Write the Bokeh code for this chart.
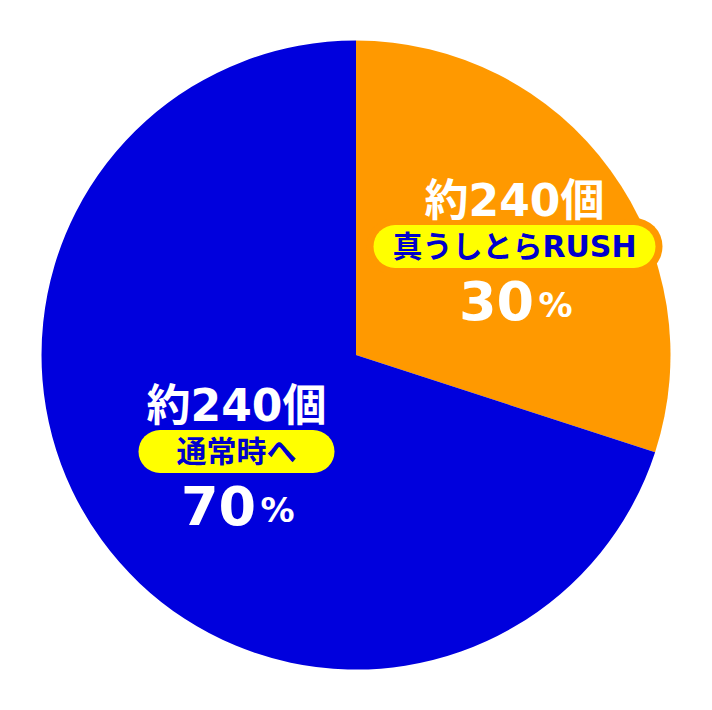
import numpy as np
from bokeh.plotting import figure
from bokeh.models import Range1d
from bokeh.core.properties import value
from bokeh.embed import file_html
from bokeh.resources import INLINE

# data
shares = [30, 70]
counts = ["約240個", "約240個"]
names = ["真うしとらRUSH", "通常時へ"]
pcts = ["30", "70"]
colors = ["#FF9900", "#0000DD"]

# pie geometry (pixel-like coords, y flipped)
cx, cy, r = 355.5, -354.5, 314.5

p = figure(width=696, height=694, output_backend="svg", toolbar_location=None,
           x_range=Range1d(0, 696), y_range=Range1d(-694, 0))
p.axis.visible = False
p.grid.visible = False
p.outline_line_color = None
p.min_border = 0
p.background_fill_color = "white"

fr = np.array(shares) / sum(shares)
ends = np.pi / 2 - np.cumsum(fr) * 2 * np.pi
starts = np.concatenate([[np.pi / 2], ends[:-1]])
p.wedge(x=cx, y=cy, radius=r, start_angle=ends, end_angle=starts,
        fill_color=colors, line_color=None)

# label anchors (center x, y for count line)
lab_x = [514, 236]
lab_y = [-200, -405]
pill_w = [282, 196]

mixed = value("DejaVu Sans, 'Noto Sans CJK JP'")
num = value("DejaVu Sans")

for i in range(len(shares)):
    x0, y0, w = lab_x[i], lab_y[i], pill_w[i]
    py = y0 - 46
    h = 43
    # outlined pill
    for pad, col in [(7, colors[i]), (0, "#FFFF00")]:
        p.rect(x=x0, y=py, width=w - h, height=h + 2 * pad, fill_color=col, line_color=None)
        p.circle(x=[x0 - (w - h) / 2, x0 + (w - h) / 2], y=[py, py], radius=h / 2 + pad,
                 fill_color=col, line_color=None)
    p.text(x=[x0], y=[y0], text=[counts[i]], text_font=mixed, text_font_style="bold",
           text_font_size="44px", text_color="white", text_align="center", text_baseline="middle")
    p.text(x=[x0], y=[py], text=[names[i]], text_font=mixed, text_font_style="bold",
           text_font_size="30px", text_color="#0000CC", text_align="center", text_baseline="middle")
    p.text(x=[x0 - 18], y=[y0 - 100], text=[pcts[i]], text_font=num, text_font_style="bold",
           text_font_size="54px", text_color="white", text_align="center", text_baseline="middle")
    p.text(x=[x0 + 41], y=[y0 - 104], text=["%"], text_font=num, text_font_style="bold",
           text_font_size="34px", text_color="white", text_align="center", text_baseline="middle")

open("out.html", "w").write(file_html(p, INLINE))
